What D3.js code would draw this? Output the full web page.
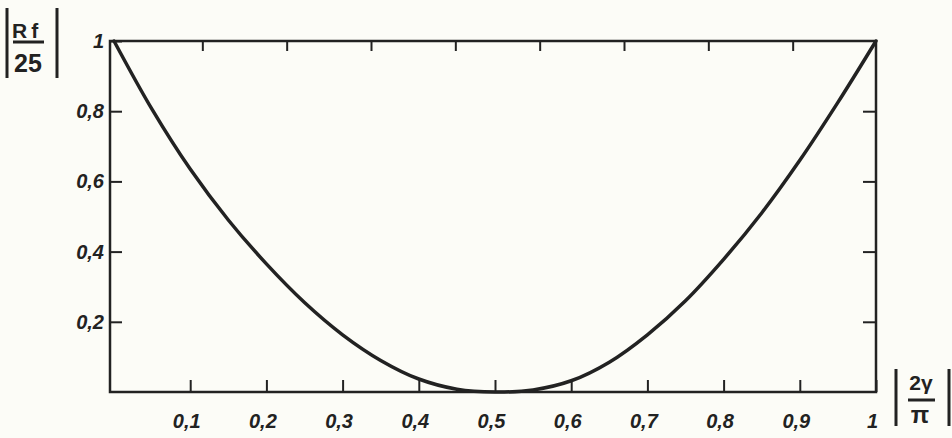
<!DOCTYPE html>
<html>
<head>
<meta charset="utf-8">
<script src="https://cdn.jsdelivr.net/npm/d3@7"></script>
<style>
	body { margin: 0; background: #fcfcf7; }
	svg { display: block; }
	.tick-label { font-family: "Liberation Sans", Arial, sans-serif; font-weight: bold; font-style: italic; font-size: 20px; fill: #222; }
	.title { font-family: "Liberation Sans", Arial, sans-serif; font-weight: bold; fill: #222; }
</style>
</head>
<body>
<script>
// |2γ/π| on x, |Rf/25| on y
var xValues = [0, 0.05, 0.1, 0.15, 0.2, 0.25, 0.3, 0.35, 0.4, 0.45, 0.5, 0.55, 0.6, 0.65, 0.7, 0.75, 0.8, 0.85, 0.9, 0.95, 1];
var rfValues = [1, 0.805, 0.635, 0.49, 0.365, 0.255, 0.163, 0.09, 0.037, 0.008, 0, 0.006, 0.032, 0.085, 0.163, 0.26, 0.378, 0.51, 0.66, 0.825, 1];

var xTicks = [0.1, 0.2, 0.3, 0.4, 0.5, 0.6, 0.7, 0.8, 0.9, 1];
var xTickLabels = ["0,1", "0,2", "0,3", "0,4", "0,5", "0,6", "0,7", "0,8", "0,9", "1"];
var yTicks = [0.2, 0.4, 0.6, 0.8, 1];
var yTickLabels = ["0,2", "0,4", "0,6", "0,8", "1"];
var topTicks = [10, 20, 30, 40, 50, 60, 70, 80];  // degrees, unlabelled

var W = 952, H = 438;
var ink = "#222";

var x = d3.scaleLinear().domain([0, 1]).range([114, 876]);
var xTop = d3.scaleLinear().domain([0, 90]).range([118, 877]);
var y = d3.scaleLinear().domain([0, 1]).range([392, 41]);

var svg = d3.select("body")
	.append("svg")
	.attr("width", W)
	.attr("height", H);

// frame
svg.append("rect")
	.attr("x", 110)
	.attr("y", y(1))
	.attr("width", x(1) - 110)
	.attr("height", y(0) - y(1))
	.attr("fill", "none")
	.attr("stroke", ink)
	.attr("stroke-width", 2.5);

svg.append("g")
	.attr("transform", "translate(-4," + y(0) + ")")
	.call(d3.axisBottom(x)
		.tickValues(xTicks)
		.tickSize(-12)
		.tickPadding(22)
		.tickFormat(function (d, i) { return xTickLabels[i]; }))
	.selectAll(".tick line")
	.attr("transform", "translate(4,0)");

svg.append("g")
	.attr("transform", "translate(0," + y(1) + ")")
	.call(d3.axisTop(xTop)
		.tickValues(topTicks)
		.tickSize(-10)
		.tickFormat(""));

svg.append("g")
	.attr("transform", "translate(110,0)")
	.call(d3.axisLeft(y)
		.tickValues(yTicks)
		.tickSize(-12)
		.tickPadding(6)
		.tickFormat(function (d, i) { return yTickLabels[i]; }));

svg.append("g")
	.attr("transform", "translate(" + x(1) + ",0)")
	.call(d3.axisRight(y)
		.tickValues([0.2, 0.4, 0.6, 0.8])
		.tickSize(-13)
		.tickFormat(""));

svg.selectAll(".domain").remove();
svg.selectAll(".tick line")
	.attr("stroke", ink)
	.attr("stroke-width", 2);
svg.selectAll(".tick text")
	.attr("class", "tick-label")
	.attr("fill", null);

// curve
var line = d3.line()
	.x(function (d, i) { return x(xValues[i]); })
	.y(function (d) { return y(d); })
	.curve(d3.curveCatmullRom.alpha(0.5));

svg.append("path")
	.datum(rfValues)
	.attr("d", line)
	.attr("fill", "none")
	.attr("stroke", ink)
	.attr("stroke-width", 3.5)
	.attr("stroke-linecap", "round");

// y title |Rf/25|
var yTitle = svg.append("g");
yTitle.append("path")
	.attr("d", "M 7 8 L 7 78 M 57 8 L 57 78 M 13 42 L 44 42")
	.attr("stroke", ink)
	.attr("stroke-width", 3);
yTitle.append("text")
	.classed("title", true)
	.attr("x", 12)
	.attr("y", 38)
	.attr("font-size", "21px")
	.attr("letter-spacing", "4px")
	.text("Rf");
yTitle.append("text")
	.classed("title", true)
	.attr("x", 14)
	.attr("y", 72)
	.attr("font-size", "25px")
	.text("25");

// x title |2γ/π|
var xTitle = svg.append("g");
xTitle.append("path")
	.attr("d", "M 896 369 L 896 426 M 949 369 L 949 426 M 908 400 L 935 400")
	.attr("stroke", ink)
	.attr("stroke-width", 3);
xTitle.append("text")
	.classed("title", true)
	.attr("x", 921)
	.attr("y", 390)
	.attr("text-anchor", "middle")
	.attr("font-size", "21px")
	.text("2γ");
xTitle.append("text")
	.classed("title", true)
	.attr("x", 920)
	.attr("y", 423)
	.attr("text-anchor", "middle")
	.attr("font-size", "24px")
	.text("π");
</script>
</body>
</html>
